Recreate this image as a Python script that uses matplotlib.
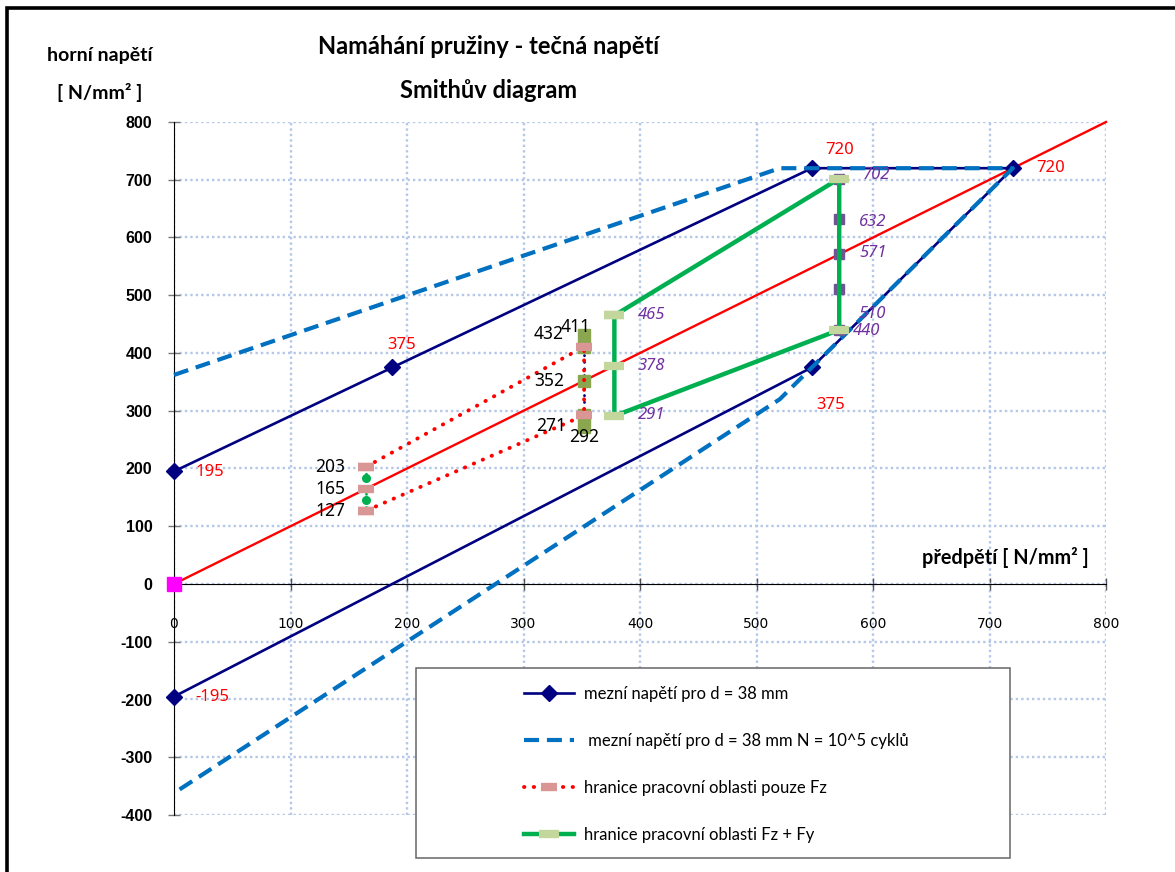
import matplotlib
matplotlib.use("Agg")
import matplotlib.pyplot as plt
from matplotlib.lines import Line2D
from matplotlib.patches import Rectangle
from matplotlib import font_manager

# ---- data -------------------------------------------------------------
# limit stress for d = 38 mm (upper branch, plateau, lower branch)
limit_x = [0, 187.5, 547.5, 720, 547.5, 0]
limit_y = [195, 375, 720, 720, 375, -195]

# limit stress for d = 38 mm, N = 10^5 cycles
cyc_x = [0, 520, 720, 520, 0]
cyc_y = [362, 720, 720, 320, -362]

# 45 degree line (static load)
diag_x = [0, 800]
diag_y = [0, 800]

# working region, Fz only
fz_x = [165, 352, 352, 165]
fz_y = [203, 411, 292, 127]
fz_mid_x = [165, 165, 165]
fz_mid_y = [203, 165, 127]
fz_dot_x = [165, 165]
fz_dot_y = [184, 146]
fz_col_x = [352, 352, 352, 352, 352]
fz_col_y = [432, 411, 352, 292, 271]

# working region, Fz + Fy
fy_x = [378, 378, 378, 571, 571, 378]
fy_y = [465, 378, 291, 440, 702, 465]
fy_col_x = [571, 571, 571, 571, 571]
fy_col_y = [702, 632, 571, 510, 440]

x_ticks = [0, 100, 200, 300, 400, 500, 600, 700, 800]
y_ticks = [-400, -300, -200, -100, 0, 100, 200, 300, 400, 500, 600, 700, 800]

# ---- fonts ------------------------------------------------------------
avail = {f.name for f in font_manager.fontManager.ttflist}
HEAD = "Lato" if "Lato" in avail else "DejaVu Sans"
TICK = "Liberation Sans" if "Liberation Sans" in avail else "DejaVu Sans"
LAB = "Noto Sans" if "Noto Sans" in avail else "DejaVu Sans"

NAVY = "#000080"
BLUE = "#0070C0"
RED = "#FF0000"
GREEN = "#00B050"
LGREEN = "#C3D69B"
PINK = "#D99694"
OLIVE = "#8AA64E"
PURPLE_M = "#6F5592"
PURPLE_T = "#7030A0"
GRID = "#B4C7E7"

W, H = 1175, 872
fig = plt.figure(figsize=(W / 100, H / 100), dpi=100)


def fx(px):
    return px / W


def fy(py):
    return 1 - py / H


ax = fig.add_axes([fx(174), fy(815), (1106 - 174) / W, (815 - 122) / H])
ax.set_xlim(0, 800)
ax.set_ylim(-400, 800)

# grid and axes
ax.set_xticks(x_ticks)
ax.set_yticks(y_ticks)
ax.set_xticklabels([str(v) for v in x_ticks], fontfamily=TICK, fontweight="bold", fontsize=11.5)
ax.set_yticklabels([str(v) for v in y_ticks], fontfamily=TICK, fontweight="bold", fontsize=11.5)
ax.grid(True, color=GRID, linestyle=(0, (1, 1.3)), linewidth=1.7, zorder=0)
ax.set_axisbelow(True)
for s in ("top", "right"):
    ax.spines[s].set_visible(False)
ax.spines["bottom"].set_position(("data", 0))
ax.spines["bottom"].set_color("black")
ax.spines["left"].set_color("black")
ax.spines["bottom"].set_zorder(1.5)
ax.spines["left"].set_zorder(1.5)
ax.tick_params(axis="x", direction="inout", length=9, width=1, color="#555555", pad=19)
ax.tick_params(axis="y", direction="inout", length=9, width=1, color="#777777", pad=11)

# curves
ax.plot(diag_x, diag_y, color=RED, lw=1.7, zorder=3, clip_on=False)
ax.plot([0], [0], marker="s", ms=10, color="#FF00FF", zorder=8, clip_on=False)

ax.plot(limit_x, limit_y, color=NAVY, lw=1.9, marker="D", ms=8, mfc=NAVY, mec=NAVY,
        zorder=4, clip_on=False, label="mezní napětí pro d = 38 mm")
ax.plot(cyc_x, cyc_y, color=BLUE, lw=3, linestyle=(0, (3.6, 1.9)), zorder=5, clip_on=False,
        label=" mezní napětí pro d = 38 mm N = 10^5 cyklů")

# Fz only
ax.plot(fz_col_x, fz_col_y, color=NAVY, lw=2, linestyle=(0, (0.1, 2.3)), dash_capstyle="round",
        marker="s", ms=8, mfc=OLIVE, mec=OLIVE, zorder=5)
ax.plot(fz_x, fz_y, color=RED, lw=2.8, linestyle=(0, (0.1, 2.4)), dash_capstyle="round",
        marker="_", ms=12, mew=6, mec=PINK, zorder=6, label="hranice pracovní oblasti pouze Fz")
ax.plot(fz_mid_x, fz_mid_y, color=GREEN, lw=2, linestyle=(0, (0.1, 2.3)), dash_capstyle="round",
        marker="_", ms=12, mew=6, mec=PINK, zorder=6)
ax.plot(fz_dot_x, fz_dot_y, linestyle="none", marker="o", ms=5.5, color=GREEN, zorder=7)

# Fz + Fy
ax.plot(fy_col_x, fy_col_y, color=PURPLE_M, lw=1, marker="s", ms=7, mfc=PURPLE_M, mec=PURPLE_M, zorder=5)
ax.plot(fy_x, fy_y, color=GREEN, lw=3.2, marker="_", ms=14, mew=6, mec=LGREEN, zorder=6,
        label="hranice pracovní oblasti Fz + Fy")

# value labels
def lbl(text, x, y, dx, dy, color, **kw):
    ax.annotate(text, xy=(x, y), xytext=(dx, dy), textcoords="offset pixels",
                ha="center", va="center", color=color, zorder=10, annotation_clip=False, **kw)

red_kw = dict(fontfamily=LAB, fontsize=12)
lbl("720", 547.5, 720, 28, 18, RED, **red_kw)
lbl("720", 720, 720, 38, 0, RED, **red_kw)
lbl("375", 187.5, 375, 9, 22, RED, **red_kw)
lbl("375", 547.5, 375, 19, -38, RED, **red_kw)
lbl("195", 0, 195, 36, -1, RED, **red_kw)
lbl("-195", 0, -195, 38, 0, RED, **red_kw)

blk_kw = dict(fontfamily=LAB, fontsize=12.5, fontweight="semibold")
for v in fz_mid_y:
    lbl(str(v), 165, v, -36, 0, "black", **blk_kw)
lbl("432", 352, 432, -35, 1, "black", **blk_kw)
lbl("411", 352, 411, -8, 20, "black", **blk_kw)
lbl("352", 352, 352, -35, 0, "black", **blk_kw)
lbl("271", 352, 271, -33, 1, "black", **blk_kw)
lbl("292", 352, 292, 0, -22, "black", **blk_kw)

pur_kw = dict(fontfamily=LAB, fontsize=12, fontstyle="italic", fontweight="bold")
lbl("465", 378, 465, 37, 0, PURPLE_T, **pur_kw)
lbl("378", 378, 378, 37, 0, PURPLE_T, **pur_kw)
lbl("291", 378, 291, 37, 1, PURPLE_T, **pur_kw)
lbl("702", 571, 702, 37, 4, PURPLE_T, **pur_kw)
lbl("632", 571, 632, 33, -3, PURPLE_T, **pur_kw)
lbl("571", 571, 571, 34, 1, PURPLE_T, **pur_kw)
lbl("510", 571, 510, 33, -25, PURPLE_T, **pur_kw)
lbl("440", 571, 440, 27, -1, PURPLE_T, **pur_kw)

# titles
head_kw = dict(fontfamily=HEAD, fontweight="bold", ha="center", va="center")
fig.text(fx(489), fy(47), "Namáhání pružiny - tečná napětí", fontsize=17, **head_kw)
fig.text(fx(489), fy(90), "Smithův diagram", fontsize=17, **head_kw)
fig.text(fx(100), fy(55), "horní napětí", fontsize=14, **head_kw)
fig.text(fx(100), fy(92), "[ N/mm² ]", fontsize=14, **head_kw)
fig.text(fx(1005), fy(557), "předpětí [ N/mm² ]", fontsize=14.3, **head_kw)

# legend
fig.patches.append(Rectangle((fx(416), fy(858)), (1010 - 416) / W, (858 - 668) / H,
                             transform=fig.transFigure, fill=True, facecolor="white",
                             edgecolor="#666666", lw=1.1, zorder=20))
leg = fig.legend(loc="upper left", bbox_to_anchor=(fx(516), fy(678)), frameon=False,
                 borderpad=0, handlelength=3.0, handletextpad=0.55, labelspacing=1.85,
                 numpoints=1, prop=dict(family=HEAD, size=12.0))
leg.set_zorder(21)

# outer frame of the sheet
fig.add_artist(Line2D([fx(7), fx(7), 1.0], [0.0, fy(8), fy(8)], transform=fig.transFigure,
                      color="black", lw=2.6, solid_joinstyle="miter"))

fig.savefig("out.png", dpi=100)
